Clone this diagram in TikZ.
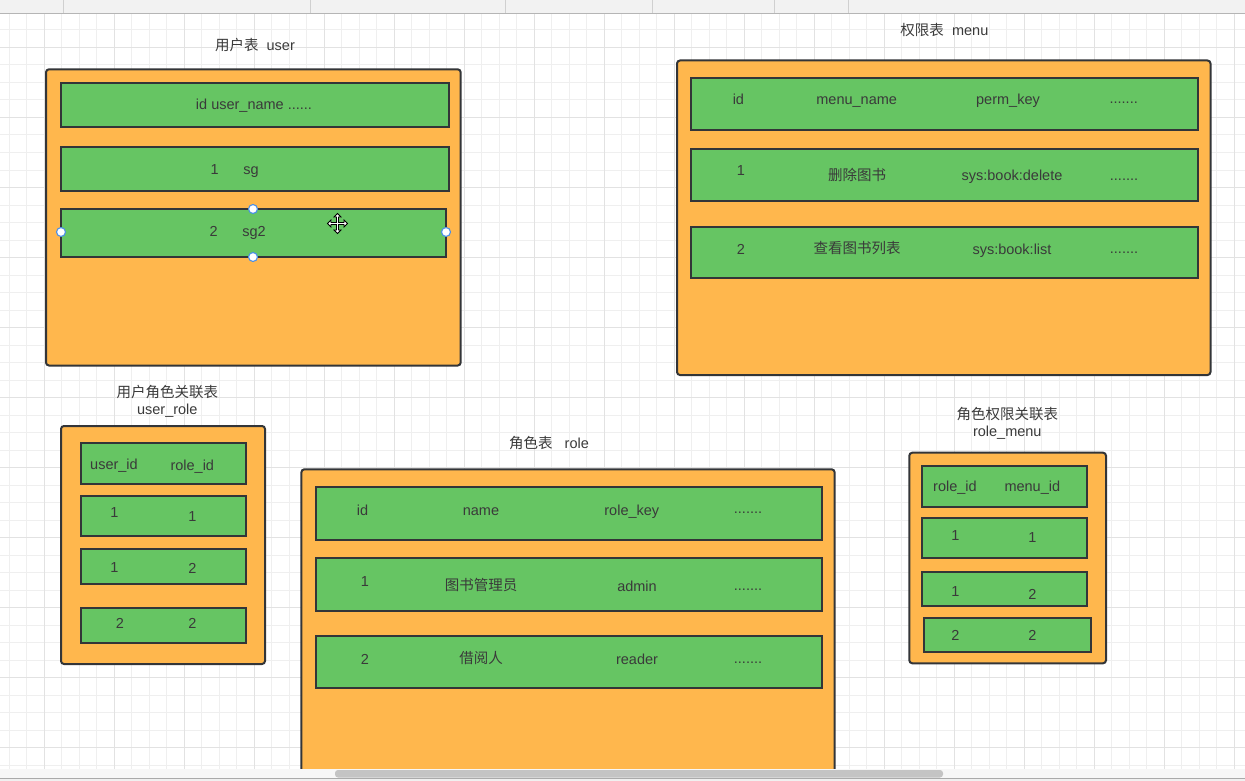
\documentclass[tikz,border=0pt]{standalone}
\usepackage{fontspec}
\setmainfont{Liberation Sans}
\newfontfamily\cjk{Noto Sans CJK SC}
\usetikzlibrary{fit}
\definecolor{orangec}{HTML}{FFB74D}
\definecolor{greenc}{HTML}{66C563}
\definecolor{strokec}{HTML}{333538}
\definecolor{textc}{HTML}{3A3A3A}
\definecolor{gridminor}{HTML}{EFEFEF}
\definecolor{gridmajor}{HTML}{E2E2E2}
\definecolor{handlec}{HTML}{4A8FE7}
\definecolor{stripc}{HTML}{F7F7F7}
\definecolor{bottomc}{HTML}{F0F0F0}
\definecolor{scrollc}{HTML}{C4C4C4}
\definecolor{botline}{HTML}{AAAAAA}
\definecolor{toolc}{HTML}{F2F2F2}
\definecolor{toolline}{HTML}{B5B5B5}
\definecolor{sepc}{HTML}{D0D0D0}
\tikzset{
  outerbox/.style={draw=strokec, fill=orangec, line width=2pt, rounded corners=3pt, inner sep=0pt},
  rowbox/.style={draw=strokec, fill=greenc, line width=2pt, inner sep=0pt},
  txt/.style={text=textc, font=\fontsize{14.5}{17}\selectfont, inner sep=0pt, anchor=base},
  handle/.style={circle, draw=handlec, fill=white, line width=1.1pt, minimum size=9pt, inner sep=0pt},
}
\begin{document}
\begin{tikzpicture}[x=1pt,y=-1pt]
\useasboundingbox (0,0) rectangle (1245,781);
\fill[white] (0,0) rectangle (1245,781);
% grid
\begin{scope}
\clip (0,14) rectangle (1245,769);
\foreach \k in {0,...,71} {
  \draw[gridminor, line width=1pt] ({9.2+17.5*\k},14) -- ({9.2+17.5*\k},769);
}
\foreach \k in {0,...,44} {
  \draw[gridminor, line width=1pt] (0,{12.5+17.5*\k}) -- (1245,{12.5+17.5*\k});
}
\foreach \k in {0,...,17} {
  \draw[gridmajor, line width=1pt] ({44.2+70*\k},14) -- ({44.2+70*\k},769);
}
\foreach \k in {0,...,10} {
  \draw[gridmajor, line width=1pt] (0,{47.5+70*\k}) -- (1245,{47.5+70*\k});
}
\end{scope}

% ---------- user table
\node[outerbox, fit={(46,69.3) (460.7,365.5)}] (user) {};
\node[rowbox, fit={(60.7,83.3) (449,126.7)}] (ur1) {};
\node[rowbox, fit={(60.7,147.3) (449,190.7)}] (ur2) {};
\node[rowbox, fit={(60.7,209) (446,257)}] (ur3) {};
\node[txt] (usertitle) at (255,51) {{\cjk 用户表}\ \ user};
\node[txt] (u1a) at (254,110) {id user\_name ......};
\node[txt] (u2a) at (214.7,174.3) {1};
\node[txt] (u2b) at (251,174.3) {sg};
\node[txt] (u3a) at (213.7,236.7) {2};
\node[txt] (u3b) at (254,236.7) {sg2};
\node[handle] (h1) at (253,209) {};
\node[handle] (h2) at (61,232) {};
\node[handle] (h3) at (446,232) {};
\node[handle] (h4) at (253,257) {};
\draw[black, fill=white, line width=0.8pt, shift={(337.5,223.5)}]
  (0,-10) -- (3.5,-6.5) -- (1,-6.5) -- (1,-1) -- (6.5,-1) -- (6.5,-3.5) -- (10,0)
  -- (6.5,3.5) -- (6.5,1) -- (1,1) -- (1,6.5) -- (3.5,6.5) -- (0,10) -- (-3.5,6.5)
  -- (-1,6.5) -- (-1,1) -- (-6.5,1) -- (-6.5,3.5) -- (-10,0) -- (-6.5,-3.5)
  -- (-6.5,-1) -- (-1,-1) -- (-1,-6.5) -- (-3.5,-6.5) -- cycle;

% ---------- menu table
\node[outerbox, fit={(677,60.5) (1210.5,375)}] (menu) {};
\node[rowbox, fit={(691,78.3) (1198,130)}] (mr1) {};
\node[rowbox, fit={(691,149.3) (1198,201)}] (mr2) {};
\node[rowbox, fit={(691,226.7) (1198,278.3)}] (mr3) {};
\node[txt] (menutitle) at (944.4,36) {{\cjk 权限表}\ \ menu};
\node[txt] (m1a) at (738.4,105) {id};
\node[txt] (m1b) at (856.7,105) {menu\_name};
\node[txt] (m1c) at (1008,105) {perm\_key};
\node[txt] (m1d) at (1123.7,104) {.......};
\node[txt] (m2a) at (741,175.7) {1};
\node[txt] (m2b) at (857,180.5) {\cjk 删除图书};
\node[txt] (m2c) at (1012,180.7) {sys:book:delete};
\node[txt] (m2d) at (1124,180) {.......};
\node[txt] (m3a) at (741,254) {2};
\node[txt] (m3b) at (857,253.5) {\cjk 查看图书列表};
\node[txt] (m3c) at (1012,254) {sys:book:list};
\node[txt] (m3d) at (1124,253.5) {.......};

% ---------- user_role table
\node[outerbox, fit={(61,426) (265,664)}] (userrole) {};
\node[rowbox, fit={(81,443.3) (246,484.3)}] (urr1) {};
\node[rowbox, fit={(81,495.7) (246,535.7)}] (urr2) {};
\node[rowbox, fit={(81,549) (246,584)}] (urr3) {};
\node[rowbox, fit={(81,607.7) (246,642.7)}] (urr4) {};
\node[txt] (urtitle1) at (167.3,397.3) {\cjk 用户角色关联表};
\node[txt] (urtitle2) at (167.3,414.3) {user\_role};
\node[txt] (ur1a) at (114,469.3) {user\_id};
\node[txt] (ur1b) at (192.3,470) {role\_id};
\node[txt] (ur2a) at (114.3,517.7) {1};
\node[txt] (ur2b) at (192.3,521) {1};
\node[txt] (ur3a) at (114.3,572.3) {1};
\node[txt] (ur3b) at (192.3,573) {2};
\node[txt] (ur4a) at (120,628.3) {2};
\node[txt] (ur4b) at (192.3,628.3) {2};

% ---------- role_menu table
\node[outerbox, fit={(909.3,452.7) (1106,663.3)}] (rolemenu) {};
\node[rowbox, fit={(922,466) (1087.3,507.3)}] (rmr1) {};
\node[rowbox, fit={(922,517.7) (1087.3,558.3)}] (rmr2) {};
\node[rowbox, fit={(922,572) (1086.5,606.3)}] (rmr3) {};
\node[rowbox, fit={(924.3,617.7) (1090.7,652.3)}] (rmr4) {};
\node[txt] (rmtitle1) at (1007.3,419.5) {\cjk 角色权限关联表};
\node[txt] (rmtitle2) at (1007.3,436) {role\_menu};
\node[txt] (rm1a) at (955,491) {role\_id};
\node[txt] (rm1b) at (1032.3,491) {menu\_id};
\node[txt] (rm2a) at (955.3,540) {1};
\node[txt] (rm2b) at (1032.3,542.7) {1};
\node[txt] (rm3a) at (955.3,596.7) {1};
\node[txt] (rm3b) at (1032.3,599) {2};
\node[txt] (rm4a) at (955.3,640) {2};
\node[txt] (rm4b) at (1032.3,640) {2};

% ---------- role table
\node[outerbox, fit={(301.4,469.3) (834.6,776)}] (role) {};
\node[rowbox, fit={(315.7,487.3) (822,540)}] (rr1) {};
\node[rowbox, fit={(315.7,558.3) (822,611)}] (rr2) {};
\node[rowbox, fit={(315.7,636) (822,688.3)}] (rr3) {};
\node[txt] (roletitle) at (549,448.3) {{\cjk 角色表}\ \ \ role};
\node[txt] (r1a) at (362.5,515) {id};
\node[txt] (r1b) at (481,515) {name};
\node[txt] (r1c) at (631.8,515) {role\_key};
\node[txt] (r1d) at (748,513) {.......};
\node[txt] (r2a) at (365,586) {1};
\node[txt] (r2b) at (481,590) {\cjk 图书管理员};
\node[txt] (r2c) at (637,591) {admin};
\node[txt] (r2d) at (748,590) {.......};
\node[txt] (r3a) at (365,664) {2};
\node[txt] (r3b) at (481,663) {\cjk 借阅人};
\node[txt] (r3c) at (637,664) {reader};
\node[txt] (r3d) at (748,663) {.......};

% ---------- editor chrome
\fill[stripc] (0,769) rectangle (1245,778);
\fill[bottomc] (0,778) rectangle (1245,781);
\fill[scrollc, rounded corners=3pt] (335,770) rectangle (943,777.5);
\draw[botline, line width=1pt] (0,778.5) -- (1245,778.5);
\fill[toolc] (0,0) rectangle (1245,14);
\draw[toolline, line width=1pt] (0,14) -- (1245,14);
\foreach \sx in {63,310,505,652,774,848} {
  \draw[sepc, line width=1pt] (\sx,0) -- (\sx,13.5);
}
\end{tikzpicture}
\end{document}
